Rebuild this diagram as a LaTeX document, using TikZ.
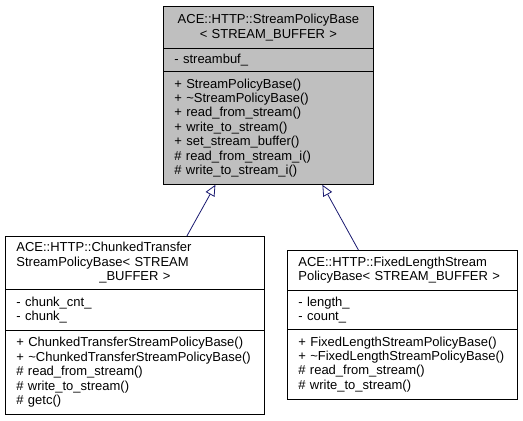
\documentclass[tikz,border=0pt]{standalone}
\usepackage{fontspec}
\setmainfont{Liberation Sans}
\usetikzlibrary{arrows.meta}

\definecolor{edgeblue}{HTML}{191970}
\definecolor{basegray}{HTML}{BFBFBF}

\begin{document}
\begin{tikzpicture}[x=1pt, y=-1pt,
  every node/.style={font=\fontsize{13}{14.4}\selectfont},
  part/.style={draw=black, line width=0.8pt, anchor=north west,
    inner xsep=11pt, inner ysep=0pt, align=left,
    execute at begin node={\hyphenpenalty=10000\exhyphenpenalty=10000}},
  basebox/.style={part, fill=basegray, text width=188pt},
  chunkbox/.style={part, text width=237pt},
  fixedbox/.style={part, text width=208pt},
  inherit/.style={draw=edgeblue, line width=0.8pt,
    -{Triangle[length=11pt, width=10pt, fill=white]}}]
  \useasboundingbox (0,0) rectangle (523,421);

  % StreamPolicyBase
  \node[basebox, minimum height=42pt, align=center] (basetitle) at (163,6)
    {ACE::HTTP::StreamPolicyBase\\< STREAM\_BUFFER >};
  \node[basebox, minimum height=23pt] (baseattr) at (163,48)
    {- streambuf\_};
  \node[basebox, minimum height=113pt] (baseops) at (163,71)
    {+ StreamPolicyBase()\\+ \textasciitilde StreamPolicyBase()\\
     + read\_from\_stream()\\+ write\_to\_stream()\\
     + set\_stream\_buffer()\\\# read\_from\_stream\_i()\\
     \# write\_to\_stream\_i()};

  % ChunkedTransferStreamPolicyBase
  \node[chunkbox, minimum height=53pt] (chunktitle) at (5,236)
    {ACE::HTTP::ChunkedTransfer\\StreamPolicyBase< STREAM\\
     \makebox[237pt]{\_BUFFER >}};
  \node[chunkbox, minimum height=41pt] (chunkattr) at (5,289)
    {- chunk\_cnt\_\\- chunk\_};
  \node[chunkbox, minimum height=84pt] (chunkops) at (5,330)
    {\mbox{+ ChunkedTransferStreamPolicyBase()}\\
     \mbox{+ \textasciitilde ChunkedTransferStreamPolicyBase()}\\
     \# read\_from\_stream()\\\# write\_to\_stream()\\\# getc()};

  % FixedLengthStreamPolicyBase
  \node[fixedbox, minimum height=40pt] (fixedtitle) at (287,250)
    {ACE::HTTP::FixedLengthStream\\PolicyBase< STREAM\_BUFFER >};
  \node[fixedbox, minimum height=39pt] (fixedattr) at (287,290)
    {- length\_\\- count\_};
  \node[fixedbox, minimum height=70pt] (fixedops) at (287,329)
    {\mbox{+ FixedLengthStreamPolicyBase()}\\
     \mbox{+ \textasciitilde FixedLengthStreamPolicyBase()}\\
     \# read\_from\_stream()\\\# write\_to\_stream()};

  % Inheritance
  \draw[inherit] ([xshift=52pt]chunktitle.north) -- ([xshift=-53pt]baseops.south);
  \draw[inherit] ([xshift=-44pt]fixedtitle.north) -- ([xshift=54pt]baseops.south);
\end{tikzpicture}
\end{document}
